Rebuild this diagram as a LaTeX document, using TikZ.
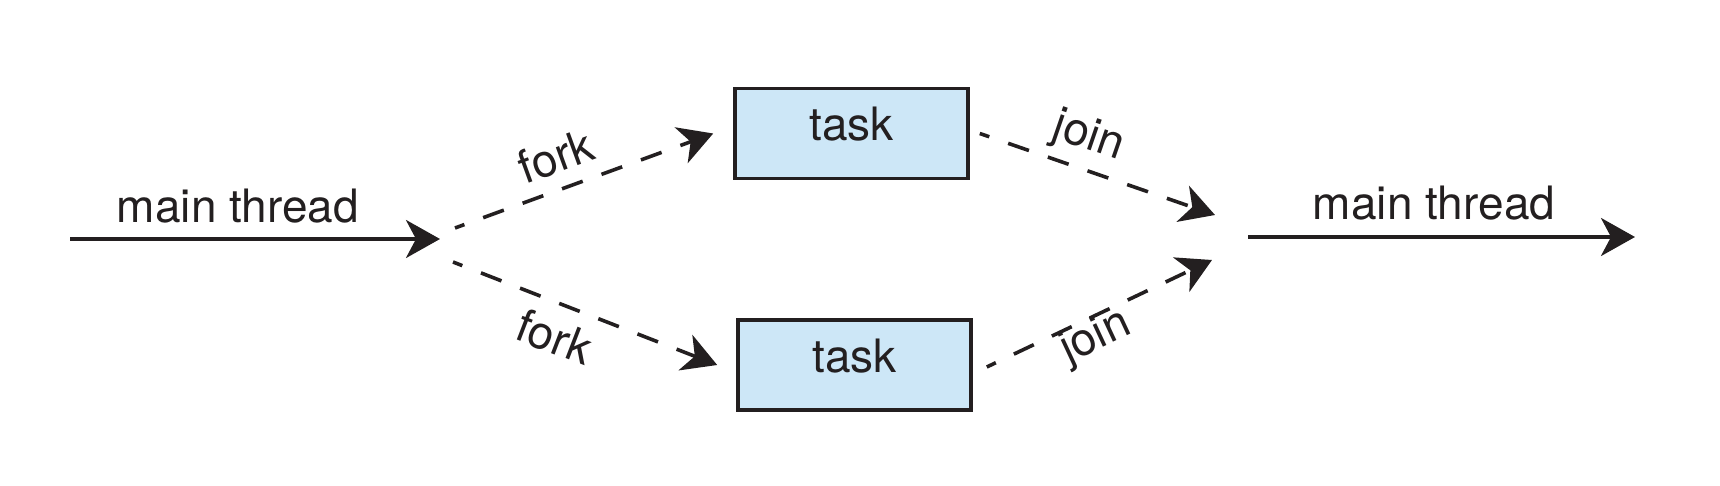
\documentclass[tikz,border=0pt]{standalone}
\usepackage{fontspec}
\setmainfont{TeX Gyre Heros}
\usetikzlibrary{arrows.meta}
\definecolor{ink}{HTML}{231F20}
\definecolor{boxblue}{HTML}{CDE7F7}
\begin{document}
\begin{tikzpicture}[x=0.5pt,y=-0.5pt,
  lbl/.style={font=\fontsize{23pt}{27pt}\selectfont, text=ink, inner sep=0pt},
  taskbox/.style={draw=ink, line width=1.8pt, fill=boxblue, minimum width=116.5pt, minimum height=45pt,
     inner sep=0pt, font=\fontsize{23pt}{27pt}\selectfont, text=ink, text height=16pt, text depth=8.6pt},
  solidarrow/.style={draw=ink, line width=1.8pt, -{Stealth[length=17pt,width=19pt,inset=5pt]}},
  dasharrow/.style={draw=ink, line width=1.8pt, dash pattern=on 11pt off 10pt, dash phase=6pt,
     -{Stealth[length=17pt,width=19pt,inset=5pt]}}
]
\useasboundingbox (0,0) rectangle (1720,486);
% boxes
\node[taskbox] (t1) at (851.5,133.5) {task};
\node[taskbox] (t2) at (854.5,365) {task};
% main thread in
\coordinate (ms) at (70,239);
\coordinate (me) at (440,239);
\draw[solidarrow] (ms) -- (me);
\node[lbl, anchor=base] (mlab) at (238,223) {main thread};
% forks
\coordinate (fu) at (455,228);
\coordinate (fd) at (453,262);
\coordinate (fuend) at ([xshift=-10pt]t1.west);
\coordinate (fdend) at ([xshift=-9.5pt]t2.west);
\draw[dasharrow] (fu) -- (fuend);
\draw[dasharrow] (fd) -- (fdend);
\node[lbl, rotate=20] (fork1) at (556,156) {fork};
\node[lbl, rotate=-21] (fork2) at (555,337) {fork};
% joins
\coordinate (ju0) at ([xshift=5pt]t1.east);
\coordinate (jd0) at ([xshift=7pt,yshift=-1pt]t2.east);
\coordinate (ju) at (1215,215);
\coordinate (jd) at (1212,260);
\draw[dasharrow] (ju0) -- (ju);
\draw[dasharrow] (jd0) -- (jd);
\node[lbl, rotate=-19] (join1) at (1088,138) {join};
\node[lbl, rotate=25] (join2) at (1096,338) {join};
% main thread out
\coordinate (rs) at (1248,237);
\coordinate (re) at (1635,237);
\draw[solidarrow] (rs) -- (re);
\node[lbl, anchor=base] (rlab) at (1434,220) {main thread};
\end{tikzpicture}
\end{document}
